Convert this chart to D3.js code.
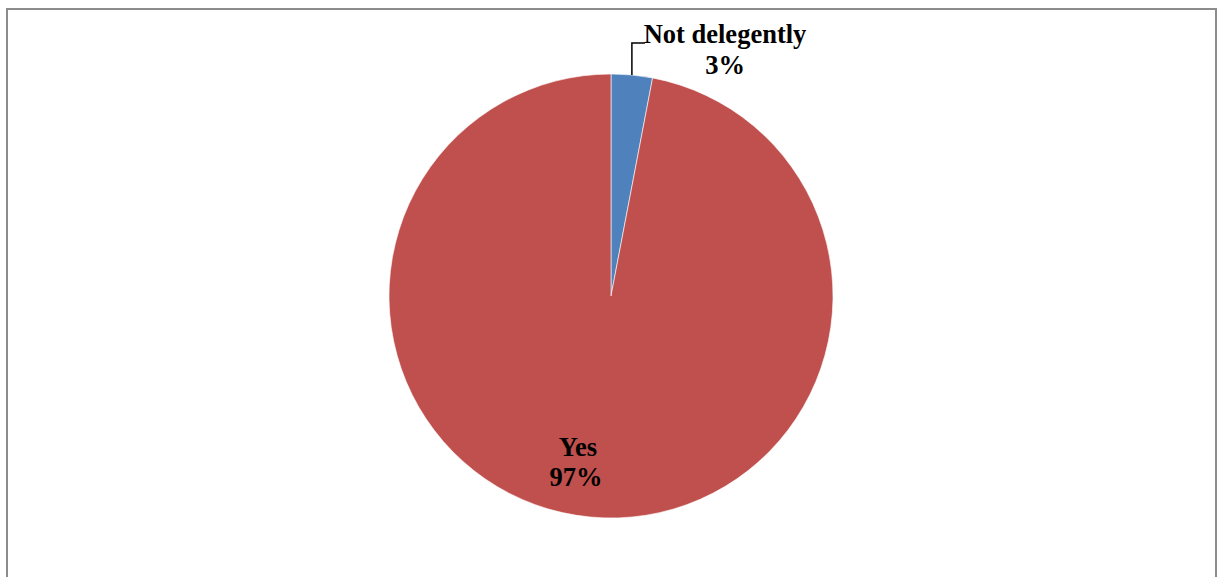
<!DOCTYPE html>
<html>
<head>
<meta charset="utf-8">
<script src="https://cdn.jsdelivr.net/npm/d3@7"></script>
<style>
  html, body { margin: 0; padding: 0; background: #fff; }
  svg { display: block; }
</style>
</head>
<body>
<svg id="chart" width="1222" height="577"></svg>
<script>
// Survey answer shares
const categories = ["Not delegently", "Yes"];
const values = [3, 97];
const colors = ["#4F81BD", "#C0504D"];

const svg = d3.select("#chart");
const W = 1222, H = 577;

// chart area frame (bottom edge runs past the visible area)
svg.append("rect")
  .attr("x", 7).attr("y", 9)
  .attr("width", 1209).attr("height", 600)
  .attr("fill", "#fff")
  .attr("stroke", "#8c8c8c")
  .attr("stroke-width", 2);

const cx = 611, cy = 296, r = 222;
const g = svg.append("g").attr("transform", `translate(${cx},${cy})`);

const data = categories.map((c, i) => ({ name: c, value: values[i], color: colors[i] }));
const pie = d3.pie().value(d => d.value).sort(null);
const arcs = pie(data);
const arc = d3.arc().innerRadius(0).outerRadius(r);

g.selectAll("path.slice")
  .data(arcs)
  .join("path")
  .attr("class", "slice")
  .attr("d", arc)
  .attr("fill", d => d.data.color)
  .attr("stroke", "#ffffff")
  .attr("stroke-width", 0.6);

const font = "'Liberation Serif', 'Times New Roman', serif";
const fmt = v => Math.round(v) + "%";

// small slice: label outside with an elbow leader line
const small = arcs[0];
const mid = (small.startAngle + small.endAngle) / 2;
const px = r * Math.sin(mid), py = -r * Math.cos(mid);
const elbowY = -253;
g.append("path")
  .attr("d", `M${px},${py} L${px},${elbowY} L${px + 13},${elbowY}`)
  .attr("fill", "none")
  .attr("stroke", "#000")
  .attr("stroke-width", 1.5);

const lblSmall = g.append("text")
  .attr("x", 114)
  .attr("y", -253)
  .attr("text-anchor", "middle")
  .attr("font-family", font)
  .attr("font-weight", "bold")
  .attr("font-size", 26.5)
  .attr("fill", "#000");
lblSmall.append("tspan").attr("x", 114).attr("y", -253).text(small.data.name);
lblSmall.append("tspan").attr("x", 114).attr("y", -222).text(fmt(small.data.value));

// large slice: label inside
const big = arcs[1];
const lblBig = g.append("text")
  .attr("text-anchor", "middle")
  .attr("font-family", font)
  .attr("font-weight", "bold")
  .attr("font-size", 26.5)
  .attr("fill", "#000");
lblBig.append("tspan").attr("x", -33).attr("y", 160).text(big.data.name);
lblBig.append("tspan").attr("x", -35).attr("y", 190).text(fmt(big.data.value));
</script>
</body>
</html>
